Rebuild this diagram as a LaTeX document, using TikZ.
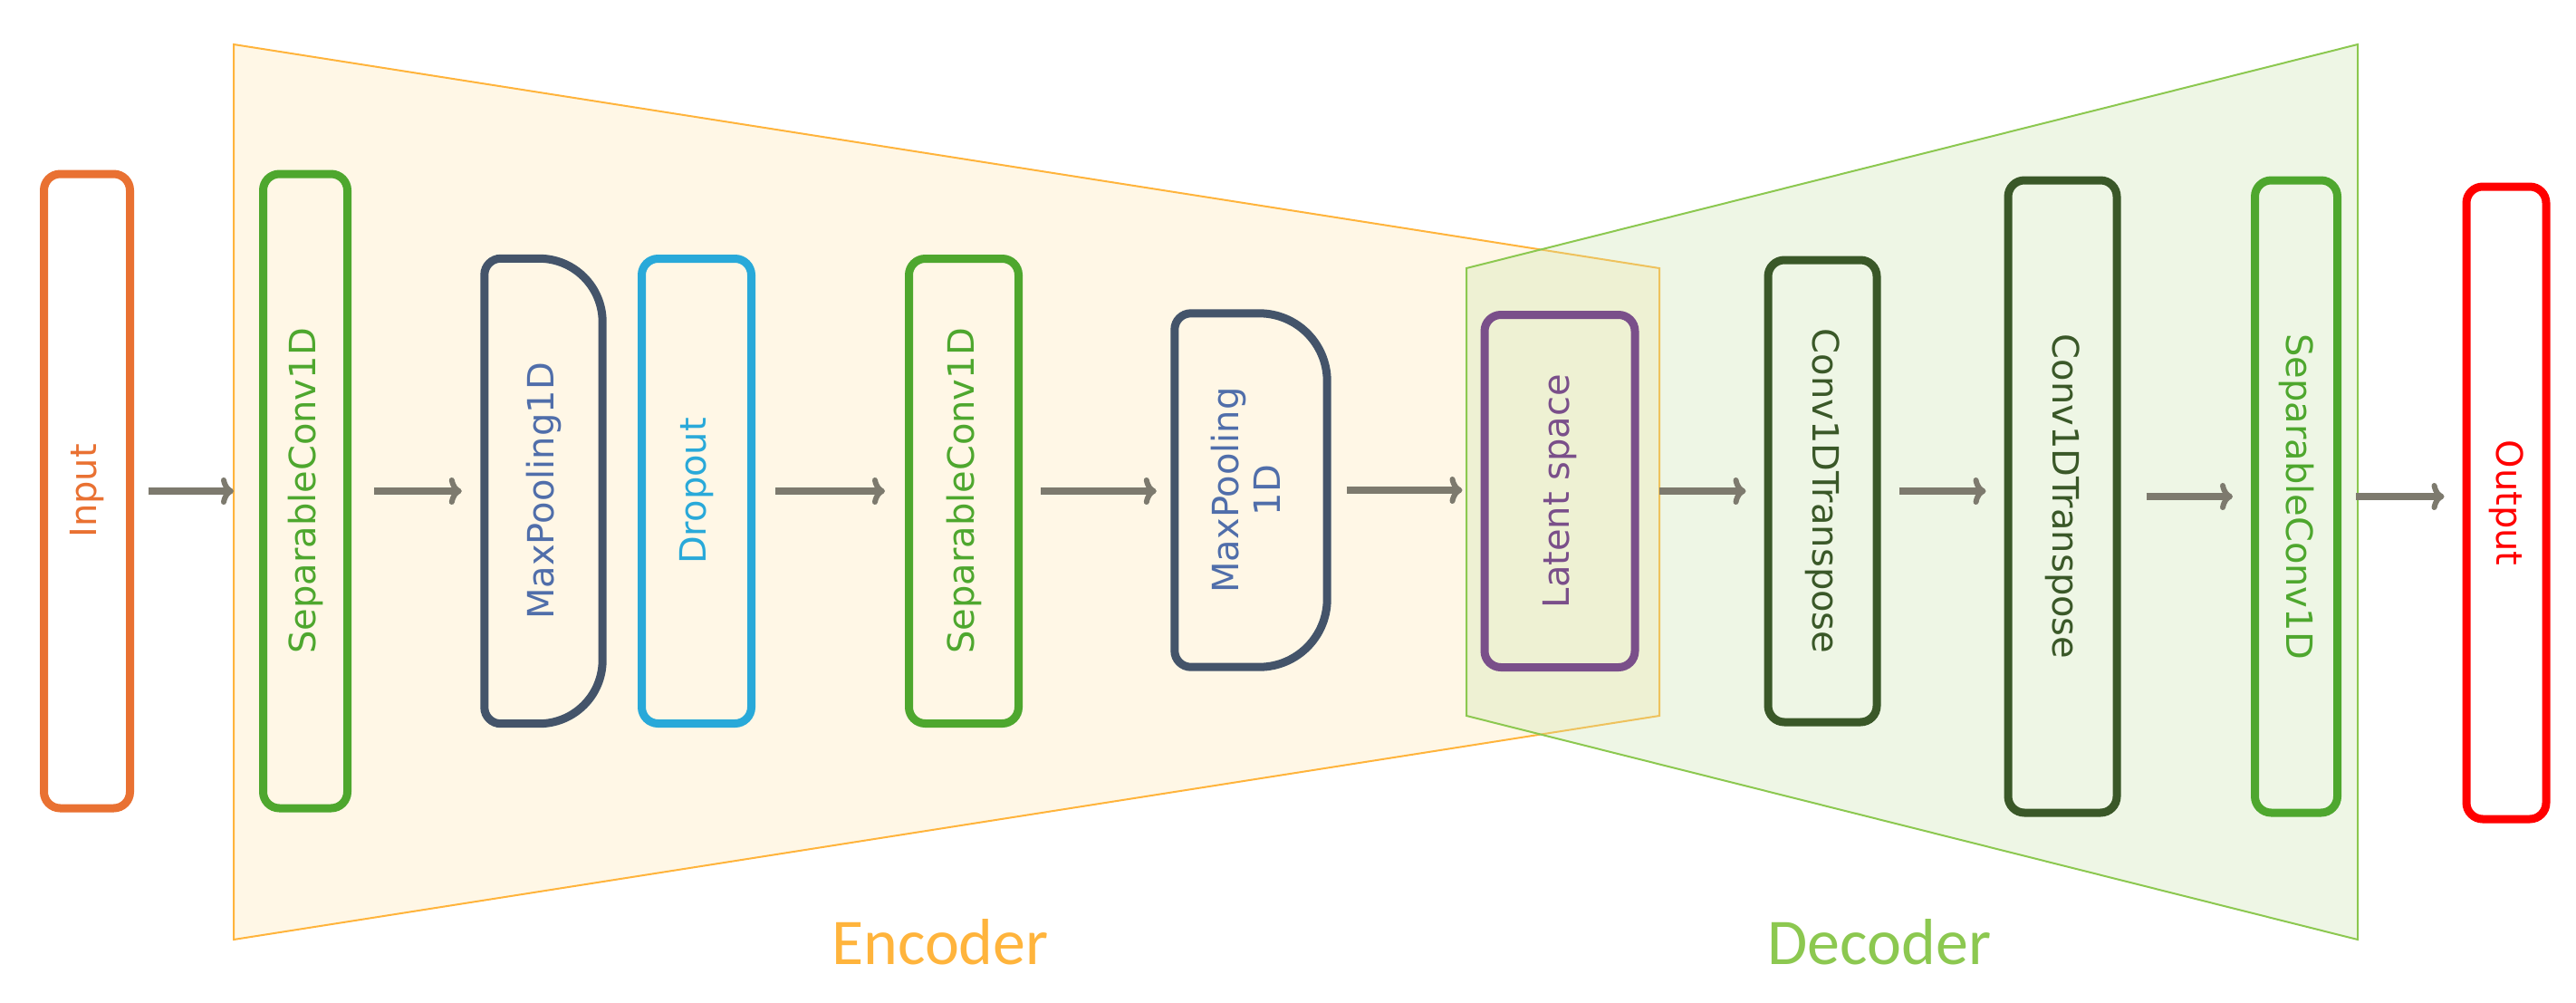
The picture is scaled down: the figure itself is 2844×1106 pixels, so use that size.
\documentclass[tikz,border=0pt]{standalone}
\usepackage{fontspec}
\usetikzlibrary{arrows.meta}
\setmainfont{DejaVu Sans}
\newfontfamily\calfont{Carlito}
\begin{document}
\begin{tikzpicture}[x=1pt,y=-1pt,
 box/.style={draw,line width=9pt,rounded corners=18pt,inner sep=0pt,font=\fontsize{40}{40}\selectfont},
 arr/.style={line width=8pt,draw={rgb,255:red,125;green,122;blue,110},-{To[length=14pt,width=30pt,line width=6pt]}},
]
\definecolor{cin}{RGB}{233,113,50}
\definecolor{cgr}{RGB}{78,167,46}
\definecolor{cmp}{RGB}{68,84,106}
\definecolor{cmpt}{RGB}{80,110,170}
\definecolor{cdr}{RGB}{41,169,217}
\definecolor{clat}{RGB}{122,79,138}
\definecolor{cdg}{RGB}{58,88,40}
\definecolor{encf}{RGB}{255,247,230}
\definecolor{encs}{RGB}{255,180,60}
\definecolor{decf}{RGB}{200,228,170}
\definecolor{decs}{RGB}{140,200,80}
\useasboundingbox (0,0) rectangle (2844,1106);
\fill[white] (0,0) rectangle (2844,1106);
\draw[encs,fill=encf,line width=2pt] (258,49) -- (1832,296) -- (1832,790) -- (258,1037) -- cycle;
\draw[decs,fill=decf,fill opacity=0.3,line width=2pt] (1619,296) -- (2603,49) -- (2603,1037) -- (1619,790) -- cycle;
\node[font=\calfont\fontsize{72}{72}\selectfont,text=encs] (enc) at (1038,1040) {Encoder};
\node[font=\calfont\fontsize{72}{72}\selectfont,text=decs] (dec) at (2075,1040) {Decoder};
\node[box,cin,minimum width=95pt,minimum height=700pt,text=cin] (in) at (96,542) {\rotatebox{90}{Input}};
\node[box,cgr,minimum width=93pt,minimum height=700pt,text=cgr] (s1) at (337,542) {\rotatebox{90}{SeparableConv1D}};
\node[inner sep=0pt,minimum width=130pt,minimum height=513pt,text=cmpt,font=\fontsize{40}{40}\selectfont] (m1) at (600,542) {\rotatebox{90}{MaxPooling1D}};
\draw[cmp,line width=9pt] (m1.south west) [rounded corners=70pt] -- (m1.south east) -- (m1.north east) [rounded corners=18pt] -- (m1.north west) -- cycle;
\node[box,cdr,minimum width=121pt,minimum height=513pt,text=cdr] (dr) at (769,542) {\rotatebox{90}{Dropout}};
\node[box,cgr,minimum width=121pt,minimum height=513pt,text=cgr] (s2) at (1064,542) {\rotatebox{90}{SeparableConv1D}};
\node[inner sep=0pt,minimum width=168pt,minimum height=390pt,text=cmpt,font=\fontsize{40}{46}\selectfont,align=center] (m2) at (1381,541) {\rotatebox{90}{\begin{tabular}{c}MaxPooling\\1D\end{tabular}}};
\draw[cmp,line width=9pt] (m2.south west) [rounded corners=75pt] -- (m2.south east) -- (m2.north east) [rounded corners=18pt] -- (m2.north west) -- cycle;
\node[box,clat,minimum width=166pt,minimum height=389pt,text=clat] (lat) at (1722,542) {\rotatebox{90}{Latent space}};
\node[box,cdg,minimum width=120pt,minimum height=510pt,text=cdg] (c1) at (2012,542) {\rotatebox{-90}{Conv1DTranspose}};
\node[box,cdg,minimum width=120pt,minimum height=698pt,text=cdg] (c2) at (2277,548) {\rotatebox{-90}{Conv1DTranspose}};
\node[box,cgr,minimum width=91pt,minimum height=698pt,text=cgr] (s3) at (2535,548) {\rotatebox{-90}{SeparableConv1D}};
\node[box,red,minimum width=88pt,minimum height=698pt,text=red] (out) at (2767,555) {\rotatebox{-90}{Output}};
\draw[arr] ([xshift=16pt]in.east) -- ([xshift=-28pt]s1.west |- in.east);
\draw[arr] ([xshift=25pt]s1.east) -- ([xshift=-25pt]m1.west |- s1.east);
\draw[arr] ([xshift=22pt]dr.east) -- ([xshift=-22pt]s2.west |- dr.east);
\draw[arr] ([xshift=20pt]s2.east) -- ([xshift=-20pt]m2.west |- s2.east);
\draw[arr] ([xshift=22pt]m2.east) -- ([xshift=-20pt]lat.west |- m2.east);
\draw[arr] ([xshift=22pt]lat.east) -- ([xshift=-20pt]c1.west |- lat.east);
\draw[arr] ([xshift=20pt]c1.east) -- ([xshift=-20pt]c2.west |- c1.east);
\draw[arr] ([xshift=28pt]c2.east) -- ([xshift=-20pt]s3.west |- c2.east);
\draw[arr] ([xshift=16pt]s3.east) -- ([xshift=-20pt]out.west |- s3.east);
\end{tikzpicture}
\end{document}
